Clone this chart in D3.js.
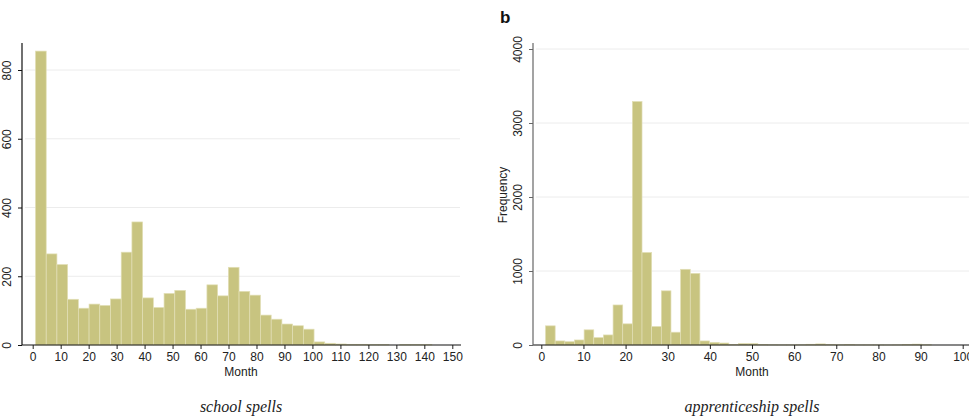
<!DOCTYPE html>
<html><head><meta charset="utf-8">
<script src="https://cdn.jsdelivr.net/npm/d3@7"></script>
<style>
html,body{margin:0;padding:0;background:#fff;}
svg{display:block;}
</style></head>
<body>
<svg id="c" width="969" height="420"></svg>
<script>
// ---- data ----
// school spells: 37 bins starting at month 1, width ~3.83
const schoolStart = 1;
const schoolWidth = 3.83;
const schoolCounts = [855,265,234,133,107,119,115,134,270,358,137,109,150,159,104,107,175,143,226,156,145,87,75,61,56,46,9,5,3,2,2,1,1,0,1,1,1];
const schoolXTicks = [0,10,20,30,40,50,60,70,80,90,100,110,120,130,140,150];
const schoolYTicks = [0,200,400,600,800];

// apprenticeship spells: 40 bins starting at month 1, width ~2.29
const apprStart = 1;
const apprWidth = 2.29;
const apprCounts = [259,55,45,68,205,100,136,541,286,3290,1250,250,732,173,1023,968,55,36,27,8,20,20,5,3,2,2,3,10,15,5,3,5,2,2,2,1,2,5,12,3];
const apprXTicks = [0,10,20,30,40,50,60,70,80,90,100];
const apprYTicks = [0,1000,2000,3000,4000];

const xLabel = "Month";
const yLabelRight = "Frequency";
const captions = ["school spells","apprenticeship spells"];
const panelLetter = "b";

// ---- drawing ----
const svg = d3.select("#c");
const BAR = "#c8c480", EDGE = "#e2dfb6", GRID = "#ececec";
const FONT = "'Liberation Sans', Arial, Helvetica, sans-serif";
const fmt = d3.format("d");

function panel(o){
  const g = svg.append("g");
  const x = d3.scaleLinear().domain(o.xdom).range(o.xr);
  const y = d3.scaleLinear().domain(o.ydom).range(o.yr);
  // gridlines
  g.selectAll("line.grid").data(o.yticks.filter(d=>d>0)).join("line")
    .attr("x1", o.axisX+3).attr("x2", o.gridEnd)
    .attr("y1", d=>y(d)).attr("y2", d=>y(d))
    .attr("stroke", GRID).attr("stroke-width", 1);
  // bars
  const bins = o.counts.map((c,i)=>({x0:o.start+i*o.width, x1:o.start+(i+1)*o.width, c}));
  g.selectAll("rect.bar").data(bins.filter(b=>b.c>0)).join("rect")
    .attr("x", b=>x(b.x0)).attr("width", b=>x(b.x1)-x(b.x0))
    .attr("y", b=>y(b.c)).attr("height", b=>y(0)-y(b.c))
    .attr("fill", BAR).attr("stroke", EDGE).attr("stroke-width", 0.7);
  // x axis
  const xa = g.append("g").attr("transform", `translate(0,${o.axisY})`)
    .call(d3.axisBottom(x).tickValues(o.xticks).tickFormat(fmt).tickSize(4).tickPadding(3).tickSizeOuter(0));
  xa.select(".domain").remove();
  xa.selectAll("text").attr("font-family", FONT).attr("font-size", 12).attr("fill", "#222");
  xa.selectAll("line").attr("stroke", "#222");
  g.append("line").attr("x1", o.axisX).attr("x2", o.xAxisEnd).attr("y1", o.axisY).attr("y2", o.axisY)
    .attr("stroke", "#111").attr("stroke-width", 1.2);
  // y axis
  const ya = g.append("g").attr("transform", `translate(${o.axisX},0)`)
    .call(d3.axisLeft(y).tickValues(o.yticks).tickFormat(fmt).tickSize(4).tickSizeOuter(0));
  ya.select(".domain").remove();
  ya.selectAll("line").attr("stroke", o.yAxisColor);
  ya.selectAll("text")
    .attr("transform", "rotate(-90)")
    .attr("text-anchor", "middle").attr("x", 0).attr("y", -11).attr("dy", null)
    .attr("font-family", FONT).attr("font-size", 12).attr("fill", "#222");
  g.append("line").attr("x1", o.axisX).attr("x2", o.axisX).attr("y1", o.axisY).attr("y2", o.yTop)
    .attr("stroke", o.yAxisColor).attr("stroke-width", 1.2);
  // x label
  g.append("text").attr("x", o.labelX).attr("y", 376).attr("text-anchor", "middle")
    .attr("font-family", FONT).attr("font-size", 12).attr("fill", "#222").text(xLabel);
  // caption
  g.append("text").attr("x", o.labelX).attr("y", 412).attr("text-anchor", "middle")
    .attr("font-family", "'Liberation Serif', 'Times New Roman', serif").attr("font-style", "italic")
    .attr("font-size", 16).attr("fill", "#222").text(o.caption);
  return g;
}

panel({xdom:[0,150], xr:[32.7,452.3], ydom:[0,800], yr:[345,70],
  counts:schoolCounts, start:schoolStart, width:schoolWidth,
  xticks:schoolXTicks, yticks:schoolYTicks,
  axisX:22, axisY:345, xAxisEnd:461, yTop:43, gridEnd:460, yAxisColor:"#111",
  labelX:241, caption:captions[0]});

const g2 = panel({xdom:[0,100], xr:[541.3,962.7], ydom:[0,4000], yr:[345,49],
  counts:apprCounts, start:apprStart, width:apprWidth,
  xticks:apprXTicks, yticks:apprYTicks,
  axisX:533, axisY:345, xAxisEnd:969, yTop:43, gridEnd:969, yAxisColor:"#666",
  labelX:752, caption:captions[1]});

g2.append("text").attr("transform", "translate(507,195) rotate(-90)").attr("text-anchor", "middle")
  .attr("font-family", FONT).attr("font-size", 12).attr("fill", "#222").text(yLabelRight);
svg.append("text").attr("x", 500).attr("y", 23).attr("font-family", FONT).attr("font-weight", "bold")
  .attr("font-size", 17).attr("fill", "#111").text(panelLetter);
</script>
</body></html>
